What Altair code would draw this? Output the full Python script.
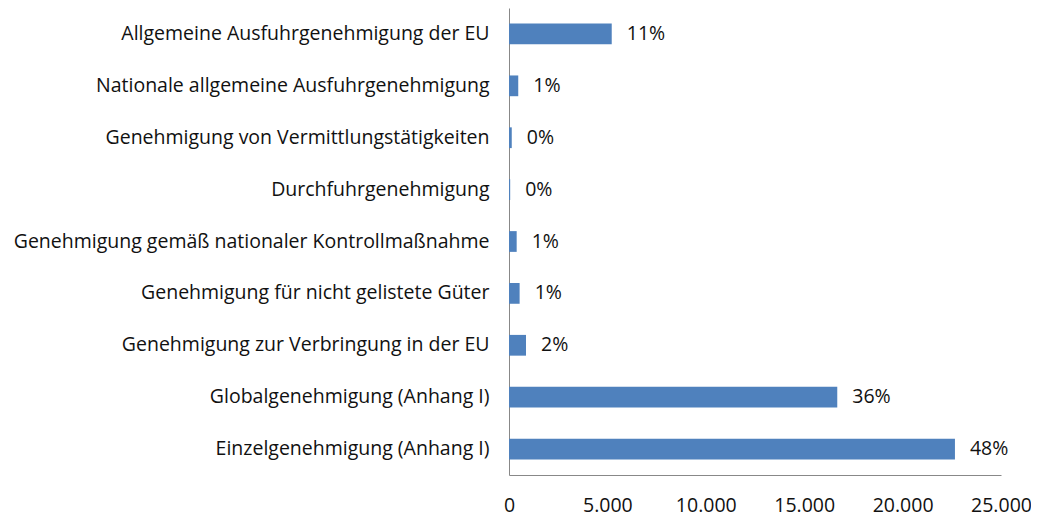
import altair as alt
import pandas as pd

categories = [
    "Allgemeine Ausfuhrgenehmigung der EU",
    "Nationale allgemeine Ausfuhrgenehmigung",
    "Genehmigung von Vermittlungstätigkeiten",
    "Durchfuhrgenehmigung",
    "Genehmigung gemäß nationaler Kontrollmaßnahme",
    "Genehmigung für nicht gelistete Güter",
    "Genehmigung zur Verbringung in der EU",
    "Globalgenehmigung (Anhang I)",
    "Einzelgenehmigung (Anhang I)",
]
values = [5220, 470, 140, 60, 390, 540, 865, 16680, 22660]
pct_labels = ["11%", "1%", "0%", "0%", "1%", "1%", "2%", "36%", "48%"]

df = pd.DataFrame({"cat": categories, "val": values, "pct": pct_labels})

FONT = "Open Sans"
FS = 19.5

y_enc = alt.Y("cat:N", sort=categories, title=None,
              scale=alt.Scale(paddingInner=0.6, paddingOuter=0.3),
              axis=alt.Axis(labelFont=FONT, labelFontSize=FS, labelColor="#111",
                            labelPadding=20, ticks=False, domainColor="#888",
                            labelLimit=600))
x_enc = alt.X("val:Q", title=None,
              scale=alt.Scale(domain=[0, 25000], nice=False),
              axis=alt.Axis(values=[0, 5000, 10000, 15000, 20000, 25000],
                            labelExpr="replace(format(datum.value, ','), ',', '.')",
                            labelFont=FONT, labelFontSize=FS, labelColor="#111",
                            labelPadding=21, ticks=False, grid=False,
                            domainColor="#888", labelFlush=False))

bars = alt.Chart(df).mark_bar(color="#4F81BD").encode(x=x_enc, y=y_enc)
text = alt.Chart(df).mark_text(align="left", baseline="middle", dx=15,
                               font=FONT, fontSize=FS, color="#111").encode(
    x="val:Q", y=alt.Y("cat:N", sort=categories), text="pct:N")

chart = (bars + text).properties(
    width=492, height=467,
    autosize=alt.AutoSizeParams(type="none"),
    padding={"left": 501, "top": 0, "right": 30, "bottom": 43},
).configure(background="white").configure_view(stroke=None)

chart.save("out.html", embed_options={"renderer": "svg", "actions": False})
